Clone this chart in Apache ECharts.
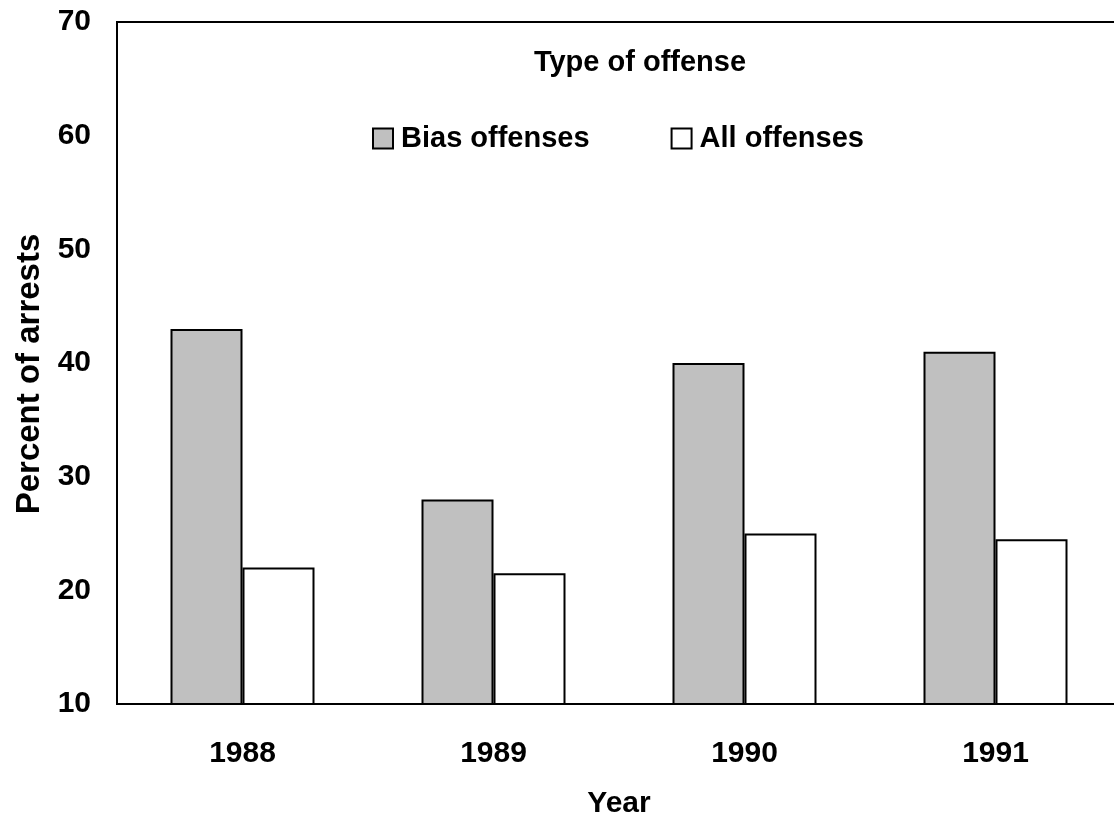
<!DOCTYPE html>
<html>
<head>
<meta charset="utf-8">
<script src="https://cdn.jsdelivr.net/npm/echarts@6/dist/echarts.min.js"></script>
<style>html,body{margin:0;padding:0;background:#fff;}#c{width:1114px;height:821px;}</style>
</head>
<body>
<div id="c"></div>
<script>
const years = ['1988', '1989', '1990', '1991'];
const biasOffenses = [43, 28, 40, 41];
const allOffenses = [22, 21.5, 25, 24.5];
const yTicks = [10, 20, 30, 40, 50, 60, 70];

const FONT = '"Liberation Sans", Arial, sans-serif';
const chart = echarts.init(document.getElementById('c'));
chart.setOption({
  backgroundColor: '#fff',
  animation: false,
  title: {
    text: 'Type of offense',
    left: 640, top: 48, textAlign: 'center', padding: 0,
    textStyle: { fontFamily: FONT, fontWeight: 'bold', fontSize: 29, color: '#000' }
  },
  legend: {
    data: ['Bias offenses', 'All offenses'],
    left: 372, top: 124, padding: 0,
    icon: 'rect', itemWidth: 20, itemHeight: 20, itemGap: 81,
    textStyle: { fontFamily: FONT, fontWeight: 'bold', fontSize: 29, color: '#000', padding: [0,0,0,3] }
  },
  grid: { left: 117, top: 22, bottom: 117, width: 1004, show: true, borderColor: '#000', borderWidth: 2, containLabel: false, outerBoundsMode: 'none' },
  xAxis: {
    type: 'category', data: years,
    name: 'Year', nameLocation: 'middle', nameGap: 85,
    nameTextStyle: { fontFamily: FONT, fontWeight: 'bold', fontSize: 30, color: '#000' },
    axisLine: { lineStyle: { color: '#000', width: 2 } },
    axisTick: { show: false },
    axisLabel: { fontFamily: FONT, fontWeight: 'bold', fontSize: 30, color: '#000', margin: 35 }
  },
  yAxis: {
    type: 'value', min: 10, max: 70, interval: 10,
    name: 'Percent of arrests', nameLocation: 'middle', nameGap: 68,
    nameTextStyle: { fontFamily: FONT, fontWeight: 'bold', fontSize: 33, color: '#000', padding: [0, 22, 0, 0] },
    axisLine: { show: true, lineStyle: { color: '#000', width: 2 } },
    axisTick: { show: false },
    splitLine: { show: false },
    axisLabel: { fontFamily: FONT, fontWeight: 'bold', fontSize: 30, color: '#000', margin: 26, padding: [4, 0, 0, 0],
      formatter: v => yTicks.includes(v) ? String(v) : '' }
  },
  series: [
    { name: 'Bias offenses', type: 'bar', data: biasOffenses, barWidth: 72, barGap: '0%',
      itemStyle: { color: '#c0c0c0', borderColor: '#000', borderWidth: 2 } },
    { name: 'All offenses', type: 'bar', data: allOffenses, barWidth: 72, barGap: '0%',
      itemStyle: { color: '#fff', borderColor: '#000', borderWidth: 2 } }
  ]
});
</script>
</body>
</html>
